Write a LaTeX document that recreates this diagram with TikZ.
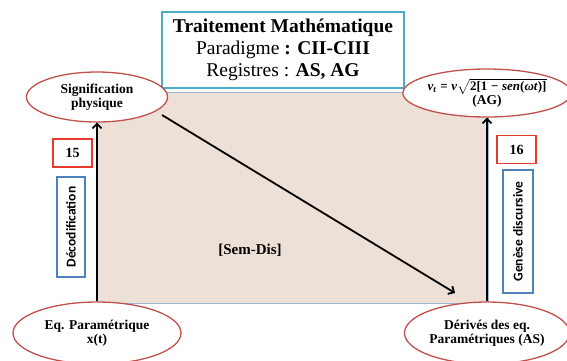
\documentclass[tikz,border=0pt]{standalone}
\usepackage{amsmath,amssymb}
\usepackage{fontspec}
\setmainfont{Liberation Serif}
\newfontfamily\calibfont{Carlito}
\usepackage{tikz}
\usetikzlibrary{positioning,arrows.meta,shapes.geometric}
\definecolor{regred}{HTML}{C0504D}
\definecolor{titleblue}{HTML}{4BACC6}
\definecolor{genblue}{HTML}{4F81BD}
\definecolor{numred}{HTML}{E8392F}
\definecolor{planefill}{HTML}{EDE0D6}
\definecolor{planeedge}{HTML}{9DB7D5}
\newcommand{\bfit}[1]{\textbf{\textit{#1}}}
\tikzset{
  register/.style={ellipse, draw=regred, line width=1.3pt, fill=white, align=center,
                   inner sep=0pt, font=\fontsize{13.5}{14.5}\selectfont\bfseries},
  numbox/.style={draw=numred, line width=1.3pt, fill=white, minimum width=39pt,
                 minimum height=28pt, inner sep=0pt, font=\fontsize{14}{15}\selectfont\bfseries},
  genbox/.style={draw=genblue, line width=1.3pt, fill=white, rotate=90, inner sep=0pt,
                 font=\calibfont\fontsize{13.5}{14}\selectfont\bfseries},
  flowarr/.style={-{Straight Barb[length=4.5pt,width=9pt]}, line width=1.8pt, draw=black},
}

\begin{document}
\begin{tikzpicture}[x=1pt,y=-1pt]
  \useasboundingbox (0,0) rectangle (567,360);
  \clip (0,0) rectangle (567,360);
  % semiotic plane
  \draw[planeedge, fill=planefill, line width=0.8pt] (96,92) rectangle (488,303);
  \node[font=\fontsize{15}{16}\selectfont\bfseries] (semdis) at (250,250) {[Sem-Dis]};
  % title
  \node[draw=titleblue, line width=1.5pt, fill=white, align=center, minimum width=242pt,
        minimum height=76pt, inner sep=0pt, font=\fontsize{19.5}{22}\selectfont] (title) at (283,50)
       {\textbf{Traitement Mathématique}\\Paradigme \textbf{: CII-CIII}\\Registres : \textbf{AS, AG}};
  % registers
  \node[register, minimum width=141pt, minimum height=50pt] (signif) at (97,97)
       {Signification\\physique};
  \node[register, minimum width=157pt, minimum height=48pt] (vt) at (487,93)
       {{\fontsize{13}{14}\selectfont\bfit{v}\textsubscript{\bfit{t}}\;=\;\bfit{v}%
        $\sqrt{\text{\bfseries 2[1\;−\;\textit{sen}(\textit{ω}\textit{t})]}}$}\\(AG)};
  \node[register, minimum width=168pt, minimum height=62pt] (eqparam) at (97,333)
       {Eq. Paramétrique\\x(t)};
  \node[register, minimum width=165pt, minimum height=62pt] (derives) at (487,333)
       {Dérivés des eq.\\Paramétriques (AS)};
  % geneses
  \node[numbox] (n15) at (72.5,153) {15};
  \node[genbox, minimum width=100pt, minimum height=28pt] (decod) at (71,227) {Décodification};
  \node[numbox] (n16) at (516.5,149.5) {16};
  \node[genbox, minimum width=123pt, minimum height=30pt] (genese) at (518,231.5) {Genèse discursive};
  % connectors
  \draw[flowarr] (eqparam.north) -- (signif.south);
  \draw[flowarr] (derives.north) -- (vt.south);
  \coordinate (semA) at (162,115);
  \coordinate (semB) at (455,293);
  \draw[flowarr] (semA) -- (semB);
\end{tikzpicture}
\end{document}
